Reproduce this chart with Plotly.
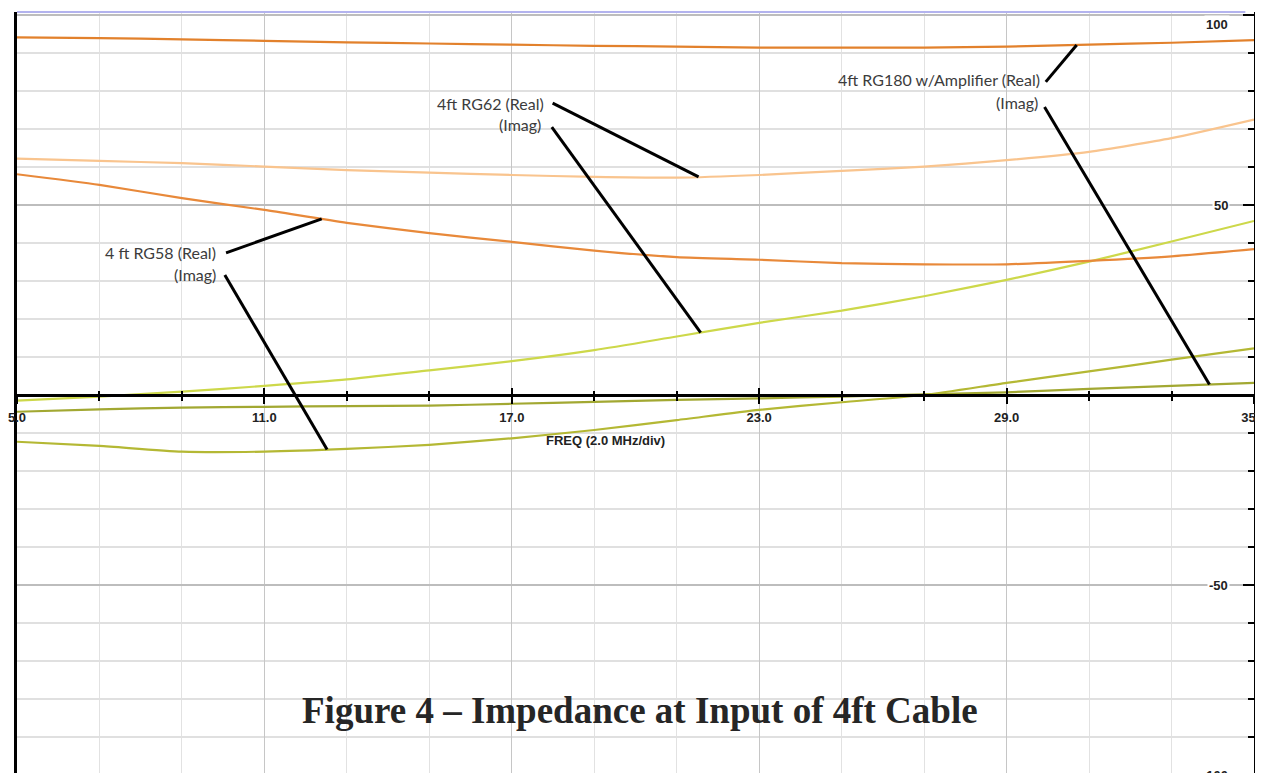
import numpy as np
import plotly.graph_objects as go

# ---------------- data ----------------
freq = [5, 7, 9, 11, 13, 15, 17, 19, 21, 23, 25, 27, 29, 31, 33, 35]  # MHz

rg180_real = [94.1, 93.9, 93.6, 93.2, 92.8, 92.5, 92.2, 91.9, 91.7, 91.4, 91.4, 91.4, 91.7, 92.2, 92.7, 93.4]
rg180_imag = [-4.4, -3.8, -3.3, -3.1, -2.9, -2.8, -2.3, -1.8, -1.3, -0.9, -0.4, 0.2, 0.7, 1.6, 2.4, 3.2]
rg62_real = [62.2, 61.6, 61.0, 60.1, 59.2, 58.5, 57.9, 57.4, 57.2, 57.9, 59.0, 60.1, 61.8, 64.0, 67.6, 72.5]
rg62_imag = [-1.5, -0.4, 0.9, 2.4, 4.1, 6.5, 8.9, 11.8, 15.4, 19.0, 22.2, 26.0, 30.3, 35.1, 40.4, 45.8]
rg58_real = [58.1, 55.3, 51.8, 48.7, 45.3, 42.6, 40.3, 38.0, 36.3, 35.6, 34.7, 34.4, 34.4, 35.3, 36.5, 38.4]
rg58_imag = [-12.3, -13.4, -14.9, -14.9, -14.2, -13.1, -11.4, -9.2, -6.6, -3.9, -1.9, 0.0, 3.2, 6.2, 9.3, 12.3]

y_tick_labels = ["100", "50", "-50", "-100"]
y_tick_values = [100, 50, -50, -100]

title_text = "Figure 4 \u2013 Impedance at Input of 4ft Cable"
x_axis_text = "FREQ (2.0 MHz/div)"

# series: (name, values, colour, callout text, text anchor (f, v), line start (f, v), target freq)
series = [
    ("RG180 Real", rg180_real, "#E2812C", "4ft RG180 w/Amplifier (Real)", (29.85, 82.9), (29.95, 82.4), 30.70),
    ("RG180 Imag", rg180_imag, "#A2A832", "(Imag)", (29.80, 77.1), (29.92, 75.8), 33.92),
    ("RG62 Real", rg62_real, "#F9C48E", "4ft RG62 (Real)", (17.82, 76.6), (17.99, 76.8), 21.53),
    ("RG62 Imag", rg62_imag, "#CDD84A", "(Imag)", (17.75, 71.1), (17.97, 70.5), 21.58),
    ("RG58 Real", rg58_real, "#E8893A", "4 ft RG58 (Real)", (9.87, 37.4), (10.07, 37.4), 12.39),
    ("RG58 Imag", rg58_imag, "#B4B834", "(Imag)", (9.87, 31.6), (10.04, 31.6), 12.52),
]

# ---------------- figure ----------------
# the page body adds an 8px offset, so the figure is sized to the visible window
OFF = 8
W, H = 1263 - OFF, 773 - OFF
ML, MR, MT, MB = 17 - OFF, 9, 12 - OFF, 0
x_range = [5, 35]
y_range = [-99.47, 100.79]

fig = go.Figure()

for name, vals, col, *_ in series:
    fig.add_trace(go.Scatter(x=freq, y=vals, mode="lines", name=name,
                             line=dict(color=col, width=2.2, shape="spline", smoothing=0.6),
                             showlegend=False, hoverinfo="skip"))

# callout lines and texts
shapes = []
annotations = []
callout_font = dict(family="Lato, Noto Sans, sans-serif", size=16, color="#3c3c3c")
for name, vals, col, txt, tpos, lstart, tf in series:
    ty = float(np.interp(tf, freq, vals))
    shapes.append(dict(type="line", xref="x", yref="y", x0=lstart[0], y0=lstart[1], x1=tf, y1=ty,
                       line=dict(color="black", width=3)))
    annotations.append(dict(xref="x", yref="y", x=tpos[0], y=tpos[1], text=txt, showarrow=False,
                            xanchor="right", yanchor="middle", font=callout_font))

# top lavender border
shapes.append(dict(type="line", xref="paper", yref="paper", x0=0, x1=0.993, y0=1, y1=1,
                   line=dict(color="#B3B3EE", width=2)))

def value_to_paper(v):
    return (v - y_range[0]) / (y_range[1] - y_range[0])

# right-axis labels (placed inside the plot, left of the axis)
for lab, val in zip(y_tick_labels, y_tick_values):
    annotations.append(dict(xref="paper", yref="paper", x=1, y=value_to_paper(val), text=lab,
                            showarrow=False, xanchor="right", yanchor="middle", xshift=-24,
                            yshift=-9 if val == 100 else 0, bgcolor="white", borderpad=1,
                            font=dict(family="Liberation Sans, Arial, sans-serif", size=13,
                                      color="#222222", weight="bold")))

plot_h = H - MT - MB
plot_w = W - ML - MR

def paper_x(px):  # screen px -> paper fraction
    return (px - OFF - ML) / plot_w

def paper_y(py):
    return (H - MB - (py - OFF)) / plot_h

annotations.append(dict(xref="paper", yref="paper", x=paper_x(605), y=paper_y(441), text=x_axis_text,
                        showarrow=False, xanchor="center", yanchor="middle",
                        font=dict(family="Liberation Sans, Arial, sans-serif", size=13,
                                  color="#222222", weight="bold")))

annotations.append(dict(xref="paper", yref="paper", x=paper_x(640), y=paper_y(710), text=title_text,
                        showarrow=False, xanchor="center", yanchor="middle",
                        font=dict(family="Liberation Serif, serif", size=37, color="#262626",
                                  weight="bold")))

zero_pos = value_to_paper(0)

fig.update_layout(
    width=W, height=H,
    margin=dict(l=ML, r=MR, t=MT, b=MB, pad=0, autoexpand=False),
    paper_bgcolor="white", plot_bgcolor="white",
    shapes=shapes, annotations=annotations,
    xaxis=dict(range=x_range, anchor="free", position=zero_pos, automargin=False,
               showline=True, linecolor="black", linewidth=2.5,
               ticks="outside", ticklen=7, tickwidth=2, tickcolor="black",
               tick0=5, dtick=6, tickformat=".1f", ticklabelstandoff=3,
               ticklabeloverflow="allow",
               tickfont=dict(family="Liberation Sans, Arial, sans-serif", size=13,
                             color="#222222", weight="bold"),
               showgrid=True, gridcolor="#C6C6C6", gridwidth=1.2, zeroline=False,
               minor=dict(dtick=2, tick0=5, ticks="outside", ticklen=4, tickwidth=1.5,
                          tickcolor="black", showgrid=True, gridcolor="#E2E2E2", gridwidth=1.2)),
    xaxis2=dict(range=x_range, overlaying="x", matches="x", anchor="free", position=zero_pos,
                automargin=False,
                showline=False, showgrid=False, zeroline=False, showticklabels=False,
                ticks="inside", ticklen=7, tickwidth=2, tickcolor="black", tick0=5, dtick=6,
                minor=dict(dtick=2, tick0=5, ticks="inside", ticklen=4, tickwidth=1.5,
                           tickcolor="black", showgrid=False)),
    yaxis=dict(range=y_range, side="right", anchor="x", automargin=False,
               showline=True, linecolor="black", linewidth=3, mirror=True,
               ticks="outside", ticklen=7, tickwidth=2, tickcolor="black",
               tick0=0, dtick=50, showticklabels=False,
               showgrid=True, gridcolor="#BDBDBD", gridwidth=1.6, zeroline=False,
               minor=dict(dtick=10, tick0=0, ticks="outside", ticklen=6, tickwidth=1.5,
                          tickcolor="black", showgrid=True, gridcolor="#E0E0E0", gridwidth=1.6)),
    yaxis2=dict(range=y_range, overlaying="y", matches="y", side="right", anchor="x",
                automargin=False,
                showline=False, showgrid=False, zeroline=False, showticklabels=False,
                ticks="inside", ticklen=11, tickwidth=2, tickcolor="black", tick0=0, dtick=50,
                minor=dict(dtick=10, tick0=0, ticks="inside", ticklen=6, tickwidth=1.5,
                           tickcolor="black", showgrid=False)),
)

# invisible trace to activate the overlay axes
fig.add_trace(go.Scatter(x=[freq[0]], y=[rg58_imag[0]], xaxis="x2", yaxis="y2", mode="markers",
                         marker=dict(opacity=0), showlegend=False, hoverinfo="skip"))

fig.write_html("out.html")
